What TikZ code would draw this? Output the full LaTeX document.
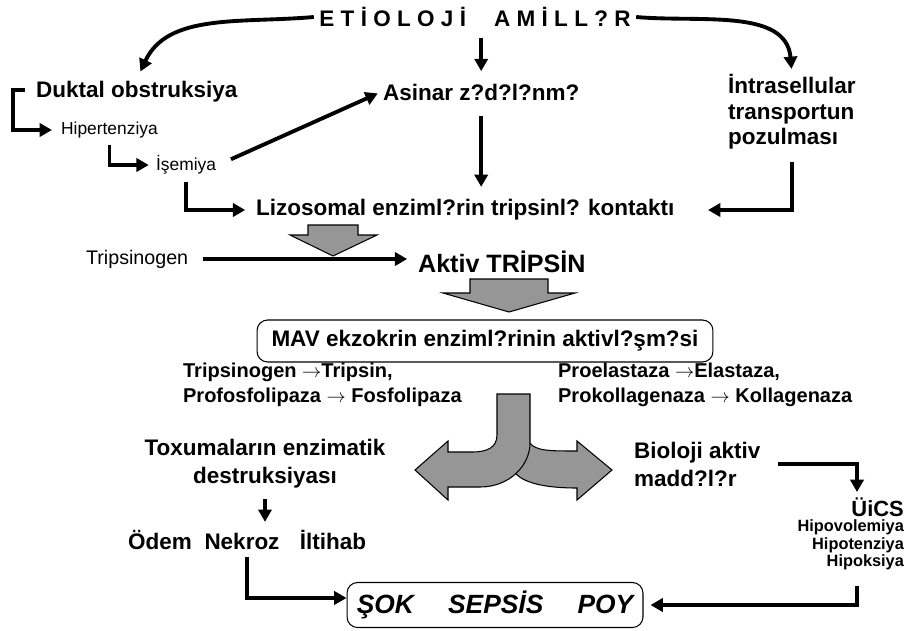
\documentclass[tikz,border=0pt]{standalone}
\usepackage{fontspec}
\setmainfont{Liberation Sans}
\usetikzlibrary{arrows.meta}
\definecolor{blockgray}{RGB}{150,150,150}
\tikzset{
  lbl/.style={font=\bfseries\fontsize{12.8}{15.9}\selectfont, inner sep=1pt},
  lblsmall/.style={font=\fontsize{9.9}{12}\selectfont, inner sep=1pt},
  lblnote/.style={font=\bfseries\fontsize{11.4}{14.2}\selectfont, inner sep=1pt, align=left},
  arr/.style={line width=2.2pt, -{Triangle[length=7pt,width=7.5pt]}},
  blockarrow/.style={fill=blockgray, draw=black, line width=0.6pt},
  roundbox/.style={draw, rounded corners=6pt, line width=0.6pt},
}
\begin{document}
\begin{tikzpicture}[x=0.02cm, y=-0.02cm]
    \useasboundingbox (0,0) rectangle (917,630);

    \node[lbl, inner xsep=3pt] (title) at (475,17) {E\kern.28em T\kern.28em İ\kern.28em O\kern.28em L\kern.28em O\kern.28em J\kern.28em İ\kern1.25em A\kern.28em M\kern.28em İ\kern.28em L\kern.28em L\kern.28em ?\kern.28em R};
    \node[lbl, anchor=west] (duktal) at (34,92) {Duktal obstruksiya};
    \node[lbl, anchor=west] (asinar) at (381,92) {Asinar z?d?l?nm?};
    \node[lbl, anchor=west, align=left, font=\bfseries\fontsize{12.8}{14.5}\selectfont] (intra) at (726,112) {İntrasellular\\transportun\\pozulması};
    \node[lblsmall, anchor=west] (hiper) at (59,130) {Hipertenziya};
    \node[lblsmall, anchor=west] (isemiya) at (154,165) {İşemiya};
    \node[lbl, anchor=west] (lizo) at (254,210) {Lizosomal enziml?rin tripsinl? kontaktı};
    \node[anchor=west, inner sep=1pt, font=\fontsize{11.2}{13}\selectfont] (trip) at (84,259) {Tripsinogen};
    \node[anchor=west, inner sep=1pt, font=\bfseries\fontsize{14.3}{17}\selectfont] (aktiv) at (416,262) {Aktiv TRİPSİN};
    \node[lbl, roundbox, minimum width=9.12cm, minimum height=0.84cm] (mav) at (485,341) {MAV ekzokrin enziml?rinin aktivl?şm?si};
    \node[lblnote, anchor=west] (ferm1) at (181,385) {Tripsinogen $\rightarrow$Tripsin,\\Profosfolipaza $\rightarrow$ Fosfolipaza};
    \node[lblnote, anchor=west] (ferm2) at (556,385) {Proelastaza $\rightarrow$Elastaza,\\Prokollagenaza $\rightarrow$ Kollagenaza};
    \node[lbl, align=center] (toxum) at (265,464) {Toxumaların enzimatik\\destruksiyası};
    \node[lbl, anchor=base] (odem) at (160,549) {Ödem};
    \node[lbl, anchor=base] (nekroz) at (242,549) {Nekroz};
    \node[lbl, anchor=base] (iltihab) at (333,549) {İltihab};
    \node[lbl, anchor=west, align=left] (bio) at (632,464) {Bioloji aktiv\\madd?l?r};
    \node[anchor=east, inner sep=1pt, font=\bfseries\fontsize{12.5}{15}\selectfont] (uics) at (906,507) {ÜiCS};
    \node[anchor=east, align=right, inner sep=1pt, font=\bfseries\fontsize{9.3}{9.9}\selectfont] (hipo) at (906,545) {Hipovolemiya\\Hipotenziya\\Hipoksiya};
    \node[roundbox, minimum width=5.92cm, minimum height=0.9cm, font=\bfseries\itshape\fontsize{15}{18}\selectfont] (sok) at (495,605) {ŞOK\hspace{1.3em}SEPSİS\hspace{1.3em}POY};
    \coordinate (uicsin) at (857,492);
    \coordinate (hipoout) at (857,586);

    \draw[arr, shorten >=5pt] (title.west) to[out=185, in=65] (duktal.north);
    \draw[arr, shorten <=5pt, shorten >=6pt] (title.south -| asinar.north) -- (asinar.north);
    \draw[arr, shorten >=2pt] (title.east) to[out=-5, in=95] (intra.north);
    \draw[arr, shorten >=4pt] (duktal.west) ++(-9,-2) -- ++(-12,0) |- (hiper.west);
    \draw[arr, shorten <=3pt, shorten >=3pt] (hiper.south) |- (isemiya.west);
    \draw[arr, shorten <=3pt, shorten >=5pt] (isemiya.south) |- (lizo.west);
    \draw[arr, shorten <=8pt, shorten >=2pt] (isemiya.east) -- (asinar.west);
    \draw[arr, shorten <=8pt, shorten >=6pt] (asinar.south) -- (asinar.south |- lizo.north);
    \draw[arr, shorten <=6pt, shorten >=18pt] (intra.south) |- (lizo.east);

    \draw[blockarrow] (308,225) -- (358,225) -- (358,235) -- (377,235) -- (333,256) -- (290,235) -- (308,235) -- cycle;
    \draw[arr, shorten <=7pt, shorten >=5pt] (trip.east) -- (trip.east -| aktiv.west);
    \draw[blockarrow] (470,279) -- (548,279) -- (548,293) -- (575,293) -- (509,312) -- (443,293) -- (470,293) -- cycle;

    \draw[blockarrow] (510,435) -- (530,443) .. controls (536,451) and (550,451) .. (577,451) -- (577,441) -- (612,470) -- (577,500) -- (577,488) .. controls (545,488) and (525,483) .. (516,474) -- (505,455) -- cycle;
    \draw[blockarrow] (497,394) -- (530,394) -- (530,443) .. controls (530,465) and (510,487) .. (480,487) -- (448,487) -- (448,500) -- (415,470) -- (448,441) -- (448,452) -- (472,452) .. controls (488,452) and (497,447) .. (497,435) -- cycle;

    \draw[arr, shorten <=5pt, shorten >=5pt] (toxum.south) -- (toxum.south |- nekroz.north);
    \draw[arr, shorten <=3pt] ([xshift=3pt]nekroz.south) |- ([yshift=4pt]sok.west);
    \draw[arr, shorten <=9pt] (bio.east) -| (uicsin);
    \draw[arr, shorten >=4pt] (hipoout) |- (sok.east);
  \end{tikzpicture}
\end{document}
